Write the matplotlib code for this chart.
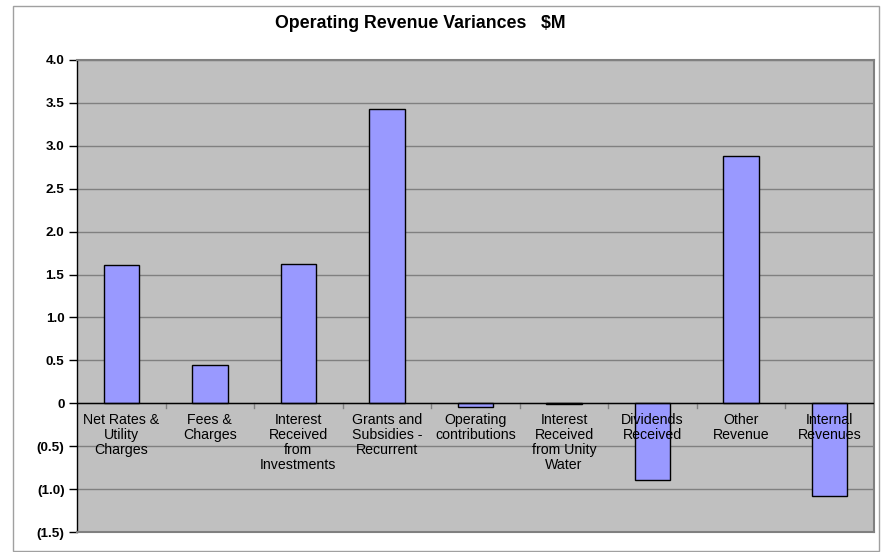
import matplotlib
matplotlib.use("Agg")
import matplotlib.pyplot as plt
from matplotlib.patches import Rectangle
from matplotlib.ticker import FuncFormatter

plt.rcParams['font.family'] = ['Liberation Sans', 'DejaVu Sans']

categories = ["Net Rates &\nUtility\nCharges", "Fees &\nCharges", "Interest\nReceived\nfrom\nInvestments",
              "Grants and\nSubsidies -\nRecurrent", "Operating\ncontributions",
              "Interest\nReceived\nfrom Unity\nWater", "Dividends\nReceived", "Other\nRevenue",
              "Internal\nRevenues"]
values = [1.61, 0.45, 1.62, 3.43, -0.045, -0.01, -0.89, 2.88, -1.08]
yticks = [-1.5, -1.0, -0.5, 0, 0.5, 1.0, 1.5, 2.0, 2.5, 3.0, 3.5, 4.0]

W, H = 881, 552
fig = plt.figure(figsize=(W/100, H/100), dpi=100)
fig.patches.append(Rectangle((13/W, 1 - 551/H), (879-13)/W, (551-6)/H, transform=fig.transFigure,
                             fill=False, edgecolor='#a0a0a0', linewidth=1.0))

left, right, top, bottom = 77, 874, 60, 532
ax = fig.add_axes([left/W, 1 - bottom/H, (right-left)/W, (bottom-top)/H])
ax.set_facecolor('#C0C0C0')

x = list(range(len(categories)))
ax.bar(x, values, width=0.4, color='#9999FF', edgecolor='black', linewidth=1.0, zorder=3)

ax.set_xlim(-0.5, len(categories) - 0.5)
ax.set_ylim(-1.5, 4.0)
ax.set_yticks(yticks)

def fmt(v, pos):
    if abs(v) < 1e-9:
        return "0"
    if v < 0:
        return "({:.1f})".format(-v)
    return "{:.1f}".format(v)
ax.yaxis.set_major_formatter(FuncFormatter(fmt))
ax.tick_params(axis='y', direction='out', length=6, width=1, pad=3, labelsize=9.7)
for lab in ax.get_yticklabels():
    lab.set_fontweight('bold')

ax.yaxis.grid(True, color='#808080', linewidth=1.0, zorder=1)
ax.set_axisbelow(True)
ax.axhline(0, color='black', linewidth=1.0, zorder=4)

ax.set_xticks([])
for b in range(1, len(categories)):
    ax.plot([b - 0.5, b - 0.5], [0, -0.06], color='#808080', linewidth=1.0, zorder=2)

for i, lab in enumerate(categories):
    ax.annotate(lab, xy=(i, 0), xytext=(0, -7), textcoords='offset points',
                ha='center', va='top', fontsize=10.2, linespacing=1.08, zorder=5)

for s in ['top', 'right', 'bottom']:
    ax.spines[s].set_color('#808080')
    ax.spines[s].set_linewidth(1.5)
ax.spines['left'].set_color('black')
ax.spines['left'].set_linewidth(1.0)

fig.text(420/W, 1 - 23/H, "Operating Revenue Variances   $M", ha='center', va='center',
         fontsize=12.8, fontweight='bold')

fig.savefig("out.png", dpi=100)
